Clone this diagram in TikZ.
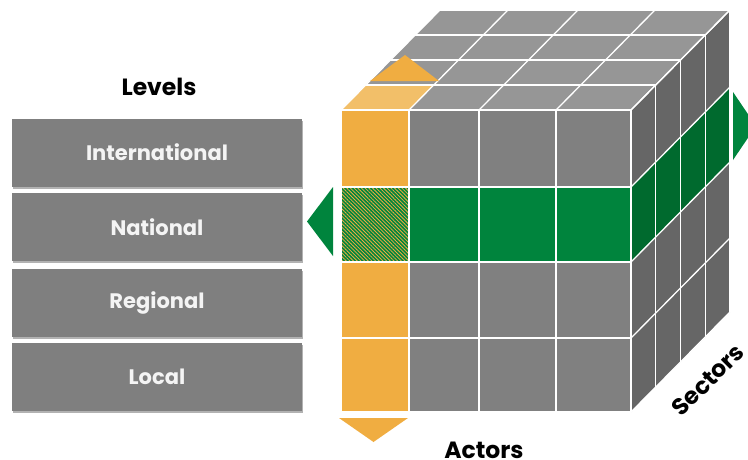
\documentclass[tikz,border=0pt]{standalone}
\usepackage{fontspec}
\setmainfont{Poppins}
\usetikzlibrary{shadows,patterns.meta}
\definecolor{boxgray}{HTML}{7F7F7F}
\definecolor{frontgray}{HTML}{808080}
\definecolor{topgray}{HTML}{969696}
\definecolor{sidegray}{HTML}{666666}
\definecolor{orng}{HTML}{F0AD41}
\definecolor{lorng}{HTML}{F2BF69}
\definecolor{grn}{HTML}{00843D}
\definecolor{dgrn}{HTML}{006A2E}
\definecolor{txtwhite}{HTML}{F4F4F4}
\tikzset{
  levelbox/.style={fill=boxgray, minimum width=290pt, minimum height=68pt, inner sep=0pt,
    text=txtwhite, font=\fontsize{21}{24}\selectfont\bfseries,
    drop shadow={shadow xshift=0.6pt, shadow yshift=-2pt, opacity=.3, fill=black}},
  heading/.style={text=black, font=\fontsize{23.5}{26}\selectfont\bfseries, inner sep=0pt},
  grid/.style={draw=white, line width=1.3pt, line cap=round}
}
\begin{document}
\begin{tikzpicture}[x=1pt,y=-1pt]
\useasboundingbox (0,0) rectangle (748,459);
\begin{scope}
\clip (0,0) rectangle (748,459);
% ---- top face
\fill[topgray] (341,110) -- (631,110) -- (730,10) -- (440,10) -- cycle;
\fill[lorng] (341,110) -- (409,110) -- (433.75,85) -- (365.75,85) -- cycle;
% ---- front face
\fill[frontgray] (341,110) rectangle (631,412);
\fill[orng] (341,110) rectangle (409,412);
\fill[grn] (409,187) rectangle (631,262);
\fill[grn] (341,187) rectangle (409,262);
\fill[pattern={Lines[angle=-45,distance=2.6pt,line width=0.8pt]}, pattern color=orng] (341,187) rectangle (409,262);
% ---- right face
\fill[sidegray] (631,110) -- (730,10) -- (730,312) -- (631,412) -- cycle;
\fill[dgrn] (631,187) -- (730,87) -- (730,162) -- (631,262) -- cycle;
% ---- grid lines: front
\foreach \x in {341,409,479,556,631} \draw[grid] (\x,110) -- (\x,412);
\foreach \y in {110,187,262,338,412} \draw[grid] (341,\y) -- (631,\y);
% top
\foreach \x in {341,409,479,556,631} \draw[grid] (\x,110) -- ++(99,-100);
\foreach \k in {0,1,2,3,4} \draw[grid] (341+24.75*\k,110-25*\k) -- (631+24.75*\k,110-25*\k);
% right
\foreach \k in {0,1,2,3,4} \draw[grid] (631+24.75*\k,110-25*\k) -- (631+24.75*\k,412-25*\k);
\foreach \y in {110,187,262,338,412} \draw[grid] (631,\y) -- ++(99,-100);
% ---- arrows
\fill[orng] (370,81) -- (439,81) -- (405,55) -- cycle;
\fill[orng] (339,418) -- (408,418) -- (373.5,442) -- cycle;
\fill[grn] (333,187) -- (333,256) -- (307,221.5) -- cycle;
\fill[grn] (733,92) -- (733,160) -- (756,126) -- cycle;
\end{scope}
% ---- level boxes
\node[levelbox] (intl) at (157,152.5) {International};
\node[levelbox] (natl) at (157,227) {National};
\node[levelbox] (regl) at (157,303) {Regional};
\node[levelbox] (locl) at (157,377) {Local};
% ---- headings
\node[heading, anchor=base] (levels) at (159,95) {Levels};
\node[heading, anchor=base] (actors) at (484,458) {Actors};
\node[heading, rotate=45] (sectors) at (708,380) {Sectors};
\end{tikzpicture}
\end{document}
